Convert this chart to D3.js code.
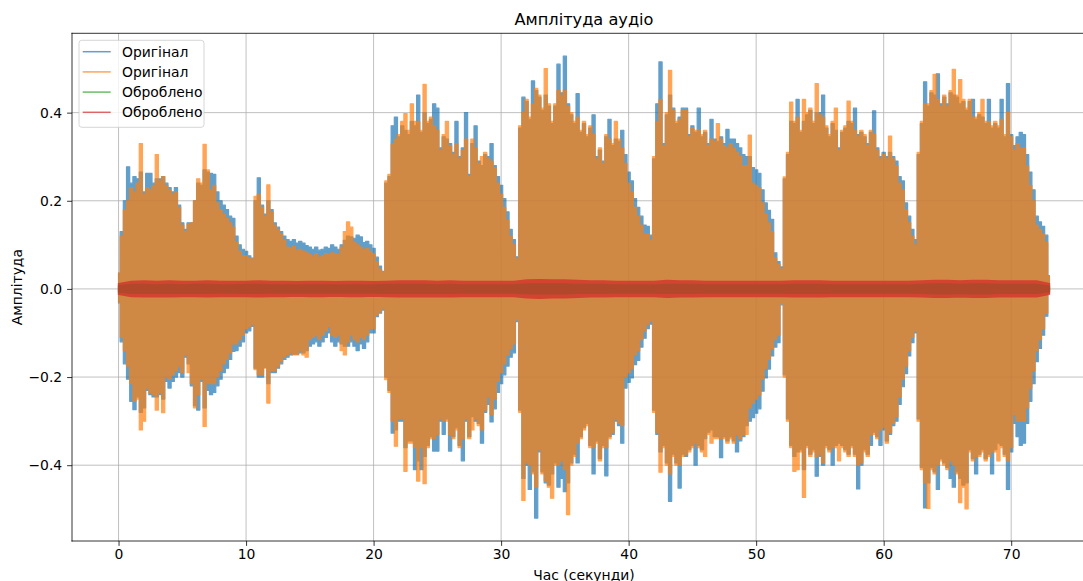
<!DOCTYPE html>
<html>
<head>
<meta charset="utf-8">
<script src="https://cdn.jsdelivr.net/npm/d3@7"></script>
<style>
body { margin: 0; background: #fff; }
svg { display: block; font-family: "DejaVu Sans", sans-serif; }
</style>
</head>
<body>
<div id="chart"></div>
<script>
// envelope of each channel, one value every 0.25 s (t = 0 .. 73), in thousandths
var step = 0.25;
// upper peaks
var blueHi = [
	36,130,200,277,240,255,250,265,220,262,262,240,250,250,255,240,230,220,230,190,
	150,135,150,150,200,240,235,270,265,262,260,220,200,190,180,165,160,120,100,90,
	85,75,70,200,252,190,170,200,180,150,140,130,120,112,108,112,104,108,104,98,
	95,90,95,88,90,95,92,100,95,90,100,110,120,118,115,122,118,105,108,100,
	92,72,52,40,240,255,370,390,345,370,360,350,380,370,440,355,400,375,385,420,
	410,320,345,340,330,310,380,300,320,400,260,330,370,290,280,305,300,330,280,255,
	235,205,175,135,112,73,365,435,425,385,472,450,435,405,440,415,375,415,510,445,
	528,420,395,375,443,355,375,345,365,395,300,315,290,345,385,325,340,335,360,305,
	265,245,205,185,165,145,142,122,295,420,515,330,395,440,410,375,390,410,410,350,
	370,355,410,345,355,330,385,340,335,345,330,362,340,340,330,320,305,300,300,275,
	270,262,225,195,178,158,82,62,50,250,305,380,375,430,355,380,395,405,375,400,
	400,440,365,345,375,360,320,355,365,380,375,410,350,355,345,330,355,404,320,300,
	310,300,310,300,290,255,245,195,165,135,112,305,375,470,415,445,440,488,420,435,
	420,445,440,435,420,425,405,425,430,385,395,390,375,430,365,375,365,430,345,466,
	350,325,345,355,350,305,265,225,165,152,142,122,30
];
var orangeHi = [
	36,120,180,200,230,220,240,330,215,230,225,235,305,245,255,235,225,215,220,185,
	145,130,148,150,200,250,240,328,270,225,235,195,180,170,160,150,140,105,85,75,
	75,70,68,210,215,185,165,236,175,145,135,125,110,95,92,96,88,90,86,82,
	78,75,80,72,75,80,78,82,80,78,95,130,152,140,105,100,95,90,92,85,
	80,62,45,38,245,260,330,340,350,380,398,360,420,380,380,360,464,380,390,370,
	360,315,350,380,325,305,330,295,315,340,255,340,320,285,300,310,295,290,275,240,
	215,185,155,120,100,68,370,400,430,390,420,455,440,410,500,420,380,420,450,440,
	450,415,400,380,390,360,380,350,370,350,295,320,285,350,340,330,380,340,320,285,
	240,220,185,165,145,125,125,110,300,380,430,325,400,496,405,380,385,405,405,345,
	365,360,360,350,360,325,340,335,375,340,325,320,330,320,310,300,280,280,349,240,
	235,230,195,170,150,130,70,55,45,254,310,424,380,390,360,430,400,410,380,466,
	395,390,370,350,380,410,315,360,370,426,380,360,345,360,350,325,360,350,315,295,
	305,295,347,295,280,240,225,180,150,120,100,310,380,420,420,450,487,430,415,440,
	415,450,498,440,475,430,410,430,390,390,400,430,380,380,370,380,370,385,350,400,
	345,315,330,320,320,280,235,200,145,135,125,105,28
];
// lower peaks (size of the negative swing)
var blueLo = [
	32,120,170,205,255,274,245,280,270,230,240,245,245,240,250,210,225,210,200,190,
	200,155,170,220,265,275,210,270,230,240,235,220,205,190,180,160,142,140,130,120,
	100,95,85,180,200,200,178,215,190,190,180,170,160,155,150,148,148,145,145,140,
	130,125,120,130,120,110,100,120,130,120,125,130,130,120,130,140,125,135,120,100,
	100,63,55,48,200,230,327,320,300,300,360,345,345,410,390,410,380,355,335,368,
	368,300,330,295,368,335,315,355,390,300,335,290,300,305,350,280,262,302,272,235,
	215,195,175,155,145,74,275,430,400,455,415,520,370,415,440,445,420,395,450,430,
	460,440,395,375,395,335,315,305,355,420,345,385,355,424,335,330,300,310,350,225,
	212,202,172,162,132,112,90,80,275,330,370,355,395,482,375,395,452,375,380,365,
	355,400,355,365,340,325,320,335,335,383,335,345,335,345,370,345,335,310,300,292,
	282,272,232,202,182,152,132,122,36,195,295,355,380,370,365,410,355,375,365,425,
	380,400,355,365,400,355,350,355,365,375,355,375,454,400,365,375,355,325,335,355,
	320,345,330,310,300,262,222,192,152,122,100,295,405,497,440,405,415,455,385,395,
	405,430,450,415,430,445,440,365,385,420,375,365,385,375,420,365,350,355,375,455,
	370,305,335,355,350,305,255,215,165,135,105,62,10
];
var orangeLo = [
	30,110,140,175,215,255,250,320,300,225,235,240,275,235,281,200,205,195,185,175,
	190,150,190,215,270,240,205,312,215,215,215,200,185,170,160,145,125,125,115,105,
	90,85,80,183,195,195,180,259,185,185,175,165,155,150,145,150,150,140,150,155,
	115,110,105,115,105,95,85,105,110,105,140,150,120,105,115,120,110,115,105,90,
	90,58,52,45,206,235,300,357,295,295,414,350,350,360,436,360,442,360,340,340,
	330,295,300,300,330,340,320,360,340,295,340,320,295,310,320,275,245,285,250,210,
	190,170,150,135,125,70,280,480,395,400,420,450,365,420,435,450,475,400,400,390,
	410,512,400,380,350,340,320,310,360,360,350,390,360,360,340,325,295,305,310,200,
	190,180,150,140,115,95,80,72,280,325,416,360,400,420,380,400,400,380,375,370,
	360,350,360,370,380,330,350,340,340,340,340,350,340,350,330,340,330,330,270,260,
	250,240,205,180,160,135,115,105,33,200,300,360,414,410,370,473,360,380,370,380,
	375,395,360,370,360,360,390,360,370,380,360,380,400,395,370,380,330,330,340,320,
	315,350,325,305,290,245,205,175,140,110,95,300,410,440,498,410,420,400,390,400,
	410,390,400,420,485,450,499,370,390,380,380,370,390,380,370,370,390,360,380,390,
	360,285,300,300,300,270,225,185,140,115,90,55,10
];
// processed channels: amplitude every 1 s (t = 0 .. 73), thousandths
var procStep = 1;
var greenAmp = [7,10,10,9,10,9,10,10,9,9, 10,10,9,9,9,9,9,9,9,9, 9,10,10,10,10,9,10,9,9,9,
	9,9,11,11,11,11,10,10,10,9, 9,9,9,10,10,10,9,9,9,9, 9,9,9,10,10,10,9,9,9,9,
	9,9,9,10,11,11,10,11,11,10, 10,10,10,6];
var redAmp = [12,17,18,17,18,17,17,18,17,17, 17,18,17,17,16,17,17,16,17,17, 16,17,18,18,18,17,18,17,17,17,
	17,17,20,21,20,20,19,18,18,17, 17,17,17,19,18,18,17,17,17,17, 17,17,17,18,18,18,17,17,17,17,
	17,17,17,18,19,19,18,19,19,18, 18,18,18,12];

var xTicks = [0, 10, 20, 30, 40, 50, 60, 70];
var yTicks = [-0.4, -0.2, 0.0, 0.2, 0.4];
var legendLabels = ["Оригінал", "Оригінал", "Оброблено", "Оброблено"];
var colors = ["#1f77b4", "#ff7f0e", "#2ca02c", "#d62728"];

var width = 1083, height = 581;
var axL = 72, axR = 1096, axT = 33.3, axB = 541;

var x = d3.scaleLinear().domain([-3.65, 76.65]).range([axL, axR]);
var y = d3.scaleLinear().domain([-0.572, 0.58]).range([axB, axT]);

var svg = d3.select("#chart").append("svg")
	.attr("width", width)
	.attr("height", height);

svg.append("defs").append("clipPath").attr("id", "plotclip")
	.append("rect")
	.attr("x", axL).attr("y", axT)
	.attr("width", axR - axL).attr("height", axB - axT);

// grid
var grid = svg.append("g");
grid.selectAll(".gx").data(xTicks).enter().append("line")
	.attr("x1", d => x(d)).attr("x2", d => x(d))
	.attr("y1", axT).attr("y2", axB)
	.style("stroke", "#b0b0b0").style("stroke-width", 0.8);
grid.selectAll(".gy").data(yTicks).enter().append("line")
	.attr("x1", axL).attr("x2", axR)
	.attr("y1", d => y(d)).attr("y2", d => y(d))
	.style("stroke", "#b0b0b0").style("stroke-width", 0.8);

var plot = svg.append("g").attr("clip-path", "url(#plotclip)");

function envelope(hi, lo, dt, curve) {
	return d3.area()
		.curve(curve)
		.x(function(d, i) { return x(i * dt); })
		.y0(function(d) { return y(-d[1] / 1000); })
		.y1(function(d) { return y(d[0] / 1000); })(d3.zip(hi, lo));
}

var series = [
	[blueHi, blueLo, step, d3.curveStep, 1.2],
	[orangeHi, orangeLo, step, d3.curveStep, 1.2],
	[greenAmp, greenAmp, procStep, d3.curveLinear, 1.5],
	[redAmp, redAmp, procStep, d3.curveLinear, 1.5]
];

series.forEach(function(s, k) {
	plot.append("g")
		.attr("opacity", 0.7)
		.append("path")
		.attr("d", envelope(s[0], s[1], s[2], s[3]))
		.attr("fill", colors[k])
		.attr("stroke", colors[k])
		.attr("stroke-width", s[4])
		.attr("stroke-linejoin", "round");
});

// spines
svg.append("g").selectAll("line")
	.data([[axL, axT, axL, axB], [axL, axB, axR, axB], [axL, axT, axR, axT], [axR, axT, axR, axB]])
	.enter().append("line")
	.attr("x1", d => d[0]).attr("y1", d => d[1])
	.attr("x2", d => d[2]).attr("y2", d => d[3])
	.style("stroke", "black").style("stroke-width", 0.8)
	.style("stroke-linecap", "square");

// axes
var xAxis = svg.append("g")
	.attr("transform", "translate(0," + axB + ")")
	.call(d3.axisBottom(x).tickValues(xTicks).tickSize(4.9).tickPadding(3).tickSizeOuter(0));
var yAxis = svg.append("g")
	.attr("transform", "translate(" + axL + ",0)")
	.call(d3.axisLeft(y).tickValues(yTicks).tickFormat(d3.format(".1f")).tickSize(4.9).tickPadding(4.9).tickSizeOuter(0));

[xAxis, yAxis].forEach(function(g) {
	g.select(".domain").remove();
	g.selectAll(".tick line").style("stroke", "black").style("stroke-width", 0.8);
	g.selectAll(".tick text")
		.attr("fill", "black")
		.style("font-family", "DejaVu Sans")
		.style("font-size", "13.9px");
});

// titles
svg.append("text")
	.attr("x", (axL + axR) / 2).attr("y", 25)
	.attr("text-anchor", "middle")
	.style("font-size", "16.2px")
	.text("Амплітуда аудіо");

svg.append("text")
	.attr("x", (axL + axR) / 2).attr("y", 580)
	.attr("text-anchor", "middle")
	.style("font-size", "13.9px")
	.text("Час (секунди)");

svg.append("text")
	.attr("transform", "translate(22," + (axT + axB) / 2 + ") rotate(-90)")
	.attr("text-anchor", "middle")
	.style("font-size", "13.9px")
	.text("Амплітуда");

// legend
var legend = svg.append("g");
legend.append("rect")
	.attr("x", 79).attr("y", 40.3)
	.attr("width", 125).attr("height", 87)
	.attr("rx", 2.8)
	.attr("fill", "white").attr("fill-opacity", 0.8)
	.attr("stroke", "#cccccc").attr("stroke-width", 0.8);

var ly = d3.scaleLinear().domain([0, 3]).range([51.7, 112.3]);
legend.selectAll(".lline").data(legendLabels).enter().append("line")
	.attr("x1", 82.7).attr("x2", 110.7)
	.attr("y1", (d, i) => ly(i)).attr("y2", (d, i) => ly(i))
	.style("stroke", (d, i) => colors[i])
	.style("stroke-width", 1.5)
	.style("stroke-opacity", 0.7);
legend.selectAll(".ltext").data(legendLabels).enter().append("text")
	.attr("x", 122)
	.attr("y", (d, i) => ly(i) + 5)
	.style("font-size", "13.9px")
	.text(d => d);
</script>
</body>
</html>
